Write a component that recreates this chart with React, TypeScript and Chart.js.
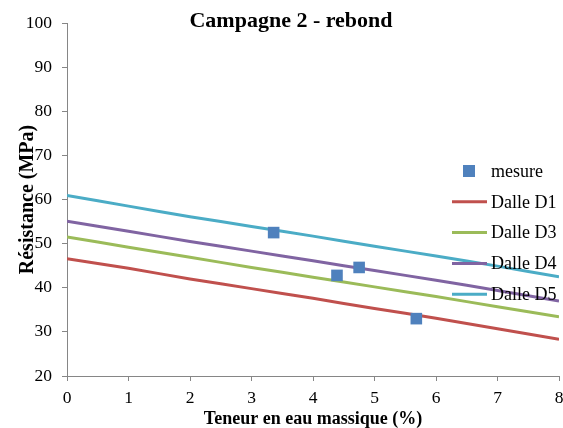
import React, { useEffect, useRef } from "react";
import { Chart, registerables } from "chart.js";

Chart.register(...registerables);

const xValues = [0, 1, 2, 3, 4, 5, 6, 7, 8];
const dalleD1 = [46.6, 44.4, 42.0, 39.8, 37.6, 35.3, 33.1, 30.7, 28.3];
const dalleD3 = [51.5, 49.2, 46.9, 44.6, 42.4, 40.2, 38.0, 35.7, 33.4];
const dalleD4 = [55.1, 52.8, 50.5, 48.3, 46.1, 43.9, 41.7, 39.4, 37.0];
const dalleD5 = [60.9, 58.5, 56.1, 53.9, 51.7, 49.4, 47.2, 44.9, 42.5];
const mesureX = [3.36, 4.39, 4.75, 5.68];
const mesureY = [52.5, 42.8, 44.6, 33.0];

const seriesNames = ["mesure", "Dalle D1", "Dalle D3", "Dalle D4", "Dalle D5"];
const colors = ["#4F81BD", "#C0504D", "#9BBB59", "#8064A2", "#4BACC6"];
const titleText = "Campagne 2 - rebond";
const xTitle = "Teneur en eau massique (%)";
const yTitle = "Résistance (MPa)";

const FONT = "'Liberation Serif', 'Times New Roman', serif";
const AXIS = "#868686";

const toPts = (xs: number[], ys: number[]) => xs.map((x, i) => ({ x, y: ys[i] }));

const overlayPlugin = {
  id: "overlay",
  afterDraw(chart: any) {
    const ctx = chart.ctx;
    ctx.save();
    // title
    ctx.fillStyle = "#000";
    ctx.font = `bold 22px ${FONT}`;
    ctx.textAlign = "center";
    ctx.textBaseline = "alphabetic";
    ctx.fillText(titleText, 291, 27);
    // legend
    const startY = 171;
    const step = 30.8;
    ctx.font = `18px ${FONT}`;
    ctx.textAlign = "left";
    ctx.textBaseline = "middle";
    seriesNames.forEach((name, i) => {
      const y = startY + i * step;
      if (i === 0) {
        ctx.fillStyle = colors[0];
        ctx.fillRect(469 - 6, y - 6, 12, 12);
      } else {
        ctx.strokeStyle = colors[i];
        ctx.lineWidth = 3;
        ctx.beginPath();
        ctx.moveTo(452, y);
        ctx.lineTo(487, y);
        ctx.stroke();
      }
      ctx.fillStyle = "#000";
      ctx.fillText(name, 491, y + 1);
    });
    ctx.restore();
  },
};

export default function App() {
  const ref = useRef<HTMLCanvasElement>(null);
  useEffect(() => {
    document.body.style.margin = "0";
    const lineDs = (label: string, ys: number[], color: string) => ({
      label,
      data: toPts(xValues, ys),
      showLine: true,
      borderColor: color,
      backgroundColor: color,
      borderWidth: 3,
      pointRadius: 0,
      tension: 0.2,
    });
    const chart = new Chart(ref.current as HTMLCanvasElement, {
      type: "scatter",
      data: {
        datasets: [
          {
            label: seriesNames[0],
            data: toPts(mesureX, mesureY),
            pointStyle: "rect",
            pointRadius: 8.2,
            pointBackgroundColor: colors[0],
            pointBorderColor: colors[0],
            pointBorderWidth: 0,
            showLine: false,
          } as any,
          lineDs(seriesNames[1], dalleD1, colors[1]),
          lineDs(seriesNames[2], dalleD3, colors[2]),
          lineDs(seriesNames[3], dalleD4, colors[3]),
          lineDs(seriesNames[4], dalleD5, colors[4]),
        ],
      },
      options: {
        animation: false,
        responsive: false,
        layout: { autoPadding: false, padding: { top: 23, right: 4, left: 0, bottom: 0 } },
        plugins: {
          legend: { display: false },
          title: { display: false },
          tooltip: { enabled: false },
        },
        scales: {
          x: {
            type: "linear",
            min: 0,
            max: 8,
            ticks: {
              stepSize: 1,
              padding: 7,
              color: "#000",
              font: { family: FONT, size: 17.5 },
            },
            grid: {
              drawOnChartArea: false,
              drawTicks: true,
              tickLength: 5,
              color: AXIS,
            },
            border: { color: AXIS, width: 1 },
            title: {
              display: true,
              text: xTitle,
              color: "#000",
              font: { family: FONT, size: 18, weight: "bold", lineHeight: 1 },
              padding: { top: 0, bottom: 0 },
            },
            afterFit: (s: any) => {
              s.height = 52;
              s.paddingLeft = 0;
              s.paddingRight = 0;
            },
          },
          y: {
            type: "linear",
            min: 20,
            max: 100,
            ticks: {
              stepSize: 10,
              padding: 10,
              color: "#000",
              font: { family: FONT, size: 17.5 },
            },
            grid: {
              drawOnChartArea: false,
              drawTicks: true,
              tickLength: 5,
              color: AXIS,
            },
            border: { color: AXIS, width: 1 },
            title: {
              display: true,
              text: yTitle,
              color: "#000",
              font: { family: FONT, size: 20, weight: "bold", lineHeight: 1 },
              padding: { top: 18, bottom: 0 },
            },
            afterFit: (s: any) => {
              s.width = 67;
              s.paddingTop = 0;
              s.paddingBottom = 0;
            },
          },
        },
      } as any,
      plugins: [overlayPlugin],
    });
    return () => chart.destroy();
  }, []);
  return (
    <div style={{ position: "absolute", left: 0, top: 0, width: 563, height: 428, background: "#fff" }}>
      <canvas ref={ref} width={563} height={428} />
    </div>
  );
}
